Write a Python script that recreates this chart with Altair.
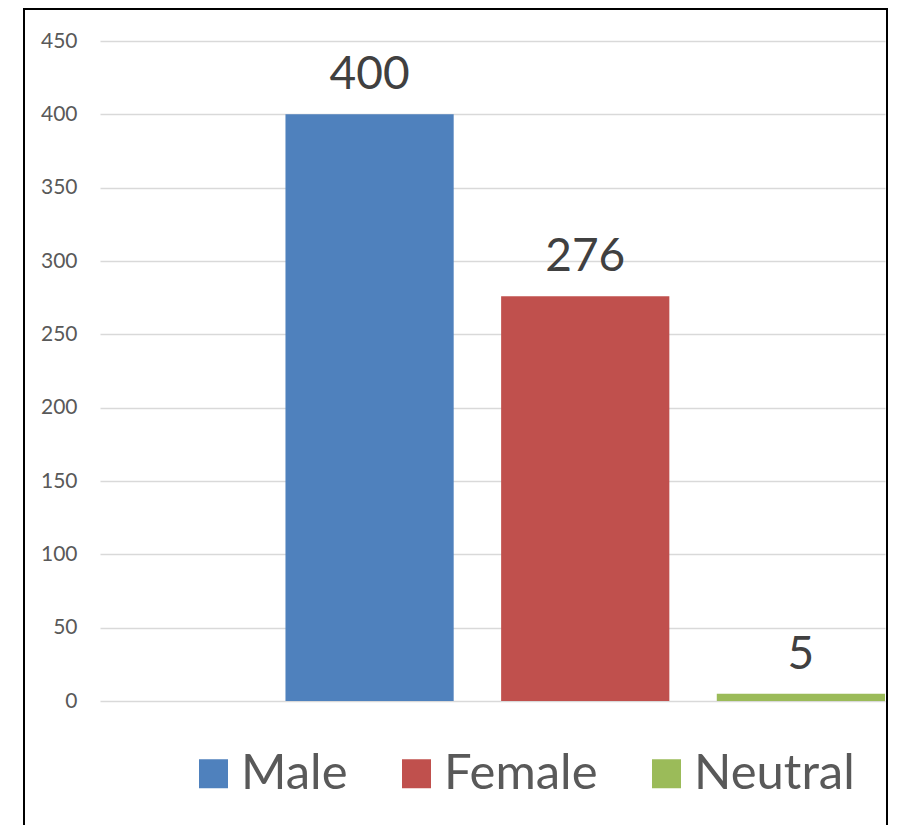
import altair as alt
import pandas as pd

categories = ["Male", "Female", "Neutral"]
counts = [400, 276, 5]
colors = ["#4F81BD", "#C0504D", "#9BBB59"]
y_ticks = [0, 50, 100, 150, 200, 250, 300, 350, 400, 450]

df = pd.DataFrame({"gender": categories, "count": counts})

x_enc = alt.X(
    "gender:N",
    sort=categories,
    scale=alt.Scale(domain=categories, paddingInner=0.22, paddingOuter=0.43, align=1),
    axis=None,
)
y_enc = alt.Y(
    "count:Q",
    scale=alt.Scale(domain=[0, 450], nice=False),
    axis=alt.Axis(
        values=y_ticks,
        grid=True,
        gridColor="#D9D9D9",
        gridWidth=1.6,
        domain=False,
        ticks=False,
        labelPadding=23,
        labelFontSize=21,
        labelFont="Lato",
        labelColor="#595959",
        title=None,
    ),
)

base = alt.Chart(df)

bars = base.mark_bar().encode(
    x=x_enc,
    y=y_enc,
    color=alt.Color(
        "gender:N",
        sort=categories,
        scale=alt.Scale(domain=categories, range=colors),
        legend=alt.Legend(
            title=None,
            orient="none",
            legendX=89,
            legendY=708,
            direction="horizontal",
            symbolType="square",
            symbolSize=841,
            symbolStrokeWidth=0,
            symbolOpacity=1,
            labelFontSize=49,
            labelFont="Lato",
            labelColor="#595959",
            labelOffset=3,
            labelLimit=400,
            columnPadding=44,
        ),
    ),
)

labels = base.mark_text(
    dy=-25, baseline="alphabetic", fontSize=46, font="Lato", color="#404040"
).encode(x=x_enc, y=y_enc, text=alt.Text("count:Q"))

frame = alt.Chart(alt.Data(values=[{"f": 1}])).mark_rect(
    fillOpacity=0, stroke="black", strokeWidth=2
).encode(
    x=alt.value(-76), x2=alt.value(787), y=alt.value(-32), y2=alt.value(860)
)

chart = (
    alt.layer(bars, labels, frame)
    .properties(
        width=785,
        height=660,
        autosize=alt.AutoSizeParams(type="none"),
        padding={"left": 92, "top": 33, "right": 4, "bottom": 130},
        background="white",
    )
    .configure_view(strokeWidth=0)
)

chart.save("out.html", embed_options={"renderer": "svg", "actions": False})
